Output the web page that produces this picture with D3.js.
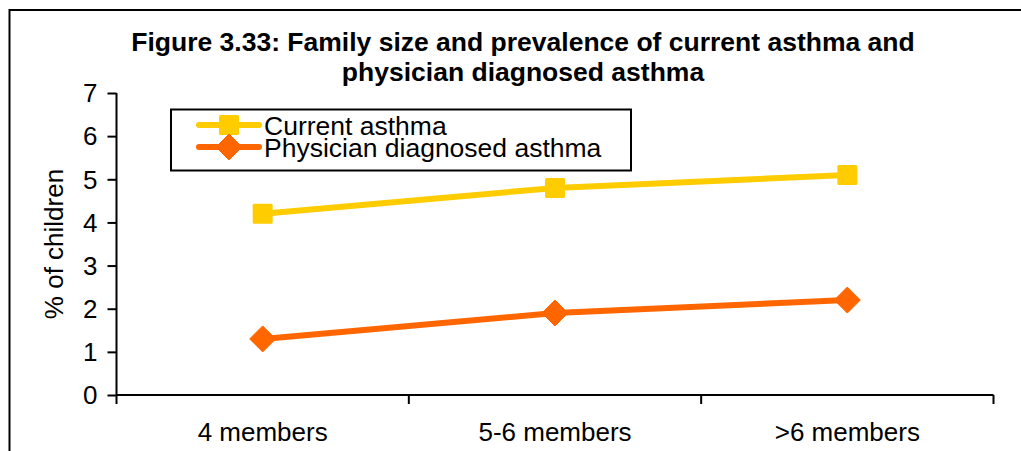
<!DOCTYPE html>
<html>
<head>
<meta charset="utf-8">
<script src="https://cdn.jsdelivr.net/npm/d3@7"></script>
<style>
  html, body { margin: 0; padding: 0; background: #fff; }
  svg { display: block; }
  text { font-family: "Liberation Sans", Arial, sans-serif; fill: #000; }
</style>
</head>
<body>
<svg id="chart" width="1021" height="451"></svg>
<script>
const categories = ["4 members", "5-6 members", ">6 members"];
const currentAsthma = [4.2, 4.8, 5.1];
const physicianDiagnosed = [1.3, 1.9, 2.2];
const yTicks = [0, 1, 2, 3, 4, 5, 6, 7];
const seriesNames = ["Current asthma", "Physician diagnosed asthma"];
const titleLines = ["Figure 3.33: Family size and prevalence of current asthma and",
                    "physician diagnosed asthma"];
const yLabel = "% of children";

const svg = d3.select("#chart");

// outer frame
svg.append("rect").attr("x", 9.5).attr("y", 10).attr("width", 1030).attr("height", 460)
  .attr("fill", "none").attr("stroke", "#000").attr("stroke-width", 2);

const plot = { left: 116.5, right: 993.5, top: 93, bottom: 395 };

const x = d3.scaleBand().domain(categories).range([plot.left, plot.right]);
const y = d3.scaleLinear().domain([0, 7]).range([plot.bottom, plot.top]);

// title
svg.append("g").selectAll("text").data(titleLines).join("text")
  .attr("x", 523).attr("y", (d, i) => 51 + i * 30)
  .attr("text-anchor", "middle").attr("font-weight", "bold").attr("font-size", 26.5)
  .text(d => d);

// y label
svg.append("text").attr("transform", `translate(63,244) rotate(-90)`)
  .attr("text-anchor", "middle").attr("font-size", 26).text(yLabel);

// y axis
const yAxis = svg.append("g").attr("transform", `translate(${plot.left},0)`)
  .call(d3.axisLeft(y).tickValues(yTicks).tickFormat(d3.format("d")).tickSize(9).tickPadding(10));
yAxis.select(".domain").attr("stroke", "#000").attr("stroke-width", 2).attr("d", `M0,${plot.top}V${plot.bottom}`);
yAxis.selectAll(".tick line").attr("stroke", "#000").attr("stroke-width", 2);
yAxis.selectAll(".tick text").attr("font-size", 26).attr("font-family", "Liberation Sans, Arial, sans-serif").attr("dy", "0.34em");

// x axis
const xAxis = svg.append("g").attr("transform", `translate(0,${plot.bottom})`)
  .call(d3.axisBottom(x).tickSize(0).tickPadding(28));
xAxis.select(".domain").attr("stroke", "#000").attr("stroke-width", 2).attr("d", `M${plot.left},0H${plot.right}`);
xAxis.selectAll(".tick text").attr("font-size", 26).attr("font-family", "Liberation Sans, Arial, sans-serif");
// boundary ticks between categories
const bounds = categories.map(c => x(c)).concat([x(categories[categories.length - 1]) + x.bandwidth()]);
svg.append("g").selectAll("line").data(bounds).join("line")
  .attr("x1", d => d).attr("x2", d => d).attr("y1", plot.bottom).attr("y2", plot.bottom + 9)
  .attr("stroke", "#000").attr("stroke-width", 2);

const cx = c => x(c) + x.bandwidth() / 2;
const line = d3.line().x(d => cx(d.c)).y(d => y(d.v));

const series = [
  { name: seriesNames[0], values: currentAsthma, color: "#FFCC00", marker: "square" },
  { name: seriesNames[1], values: physicianDiagnosed, color: "#FF6600", marker: "diamond" }
];

function drawMarker(g, type, color) {
  if (type === "square") {
    g.append("rect").attr("x", -10).attr("y", -10).attr("width", 20).attr("height", 20)
      .attr("rx", 1.5).attr("fill", color);
  } else {
    g.append("path").attr("d", "M0,-13L13,0L0,13L-13,0Z").attr("fill", color)
      .attr("stroke", color).attr("stroke-width", 1).attr("stroke-linejoin", "round");
  }
}

series.forEach(s => {
  const pts = s.values.map((v, i) => ({ c: categories[i], v }));
  svg.append("path").datum(pts).attr("d", line).attr("fill", "none")
    .attr("stroke", s.color).attr("stroke-width", 6).attr("stroke-linecap", "round");
  pts.forEach(p => {
    const g = svg.append("g").attr("transform", `translate(${cx(p.c)},${y(p.v)})`);
    drawMarker(g, s.marker, s.color);
  });
});

// legend
const leg = svg.append("g");
leg.append("rect").attr("x", 171).attr("y", 109.5).attr("width", 460).attr("height", 61)
  .attr("fill", "#fff").attr("stroke", "#000").attr("stroke-width", 2);
series.forEach((s, i) => {
  const ly = 125 + i * 22;
  leg.append("line").attr("x1", 199).attr("x2", 259).attr("y1", ly).attr("y2", ly)
    .attr("stroke", s.color).attr("stroke-width", 6).attr("stroke-linecap", "round");
  const g = leg.append("g").attr("transform", `translate(229,${ly})`);
  drawMarker(g, s.marker, s.color);
  leg.append("text").attr("x", 264).attr("y", ly + 10).attr("font-size", 26.5).text(s.name);
});
</script>
</body>
</html>
